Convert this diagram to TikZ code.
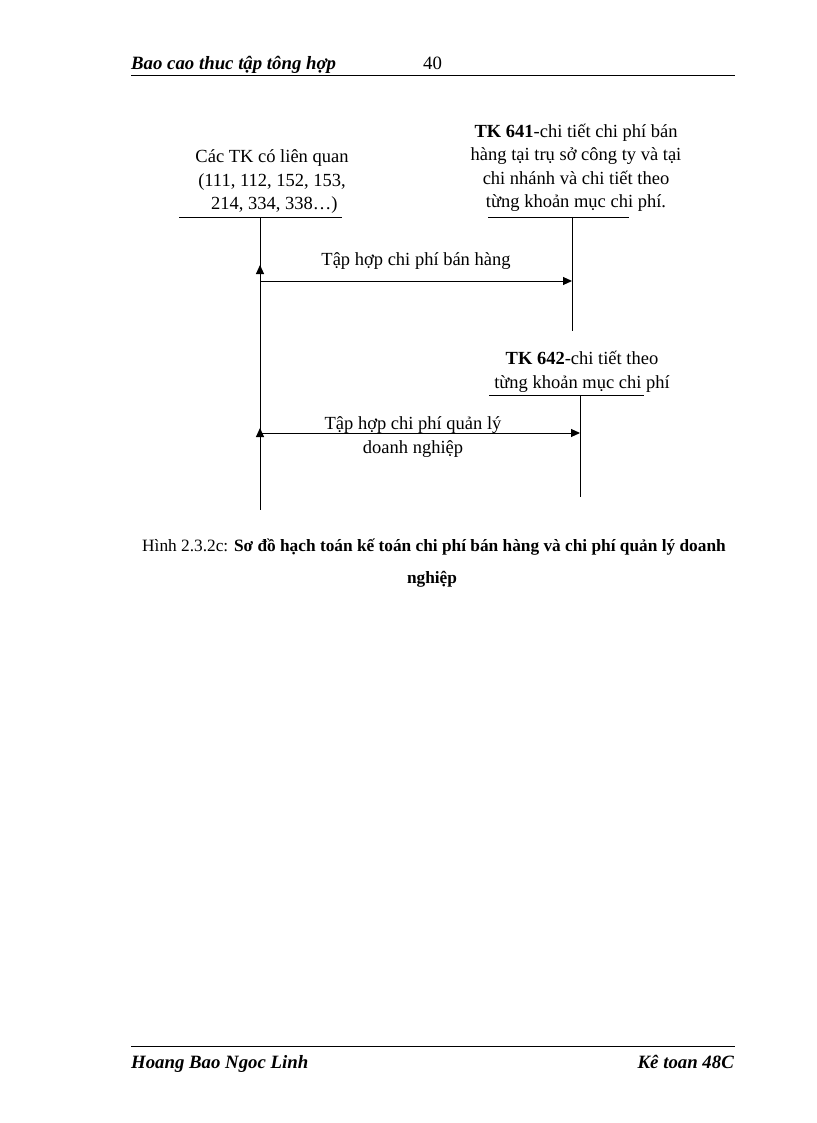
\documentclass[tikz,border=0pt]{standalone}
\usepackage{fontspec}
\setmainfont{Liberation Serif}
\usetikzlibrary{arrows.meta}
\begin{document}
\begin{tikzpicture}[x=1pt,y=-1pt,
  txt/.style={inner sep=0pt,font=\fontsize{18.5}{23.5}\selectfont,align=center},
  hf/.style={inner sep=0pt,font=\fontsize{18.8}{20}\selectfont\bfseries\itshape},
  ln/.style={line width=1pt},
  arr/.style={ln,-{Triangle[length=9pt,width=8pt]}},
  rule/.style={line width=0.8pt}]
\useasboundingbox (0,0) rectangle (816,1123);
% header / footer
\node[hf,anchor=base west] (hl) at (131,70) {Bao cao thuc tập tông hợp};
\node[txt,anchor=base west,font=\fontsize{18.8}{20}\selectfont] (pg) at (423,70) {40};
\draw[rule] (131,75) -- (735,75);
\draw[rule] (131,1046) -- (735,1046);
\node[hf,anchor=base west] (fl) at (131,1068) {Hoang Bao Ngoc Linh};
\node[hf,anchor=base east] (fr) at (734,1068) {Kê toan 48C};
% account blocks
\node[txt] (a) at (272,182) {Các TK có liên quan\\(111, 112, 152, 153,\\\ 214, 334, 338…)};
\node[txt] (b) at (576,168) {\textbf{TK 641}-chi tiết chi phí bán\\hàng tại trụ sở công ty và tại\\chi nhánh và chi tiết theo\\từng khoản mục chi phí.};
\node[txt] (c) at (582,372) {\textbf{TK 642}-chi tiết theo\\từng khoản mục chi phí};
\draw[rule] (179,217) -- (342,217);
\draw[rule] (488,217) -- (629,217);
\draw[rule] (489,395) -- (644,395);
\coordinate (lt) at (260,217);
\coordinate (lb) at (260,510);
\coordinate (l1) at (260,281);
\coordinate (l2) at (260,433);
\coordinate (bt) at (572,217);
\coordinate (bb) at (572,331);
\coordinate (b1) at (572,281);
\coordinate (ct) at (580,395);
\coordinate (cb) at (580,497);
\coordinate (c1) at (580,433);
\draw[ln] (lt) -- (lb);
\draw[ln] (bt) -- (bb);
\draw[ln] (ct) -- (cb);
\draw[arr] (260,292) -- (l1|-0,265);
\draw[arr] (260,447) -- (l2|-0,428);
\draw[arr] (l1) -- (b1);
\draw[arr] (l2) -- (c1);
\node[txt] (t1) at (416,261) {Tập hợp chi phí bán hàng};
\node[txt] (t2) at (413,437) {Tập hợp chi phí quản lý\\doanh nghiệp};
% caption
\node[txt,anchor=base,font=\fontsize{17.3}{20}\selectfont] (cap1) at (434,551) {Hình 2.3.2c: \textbf{Sơ đồ hạch toán kế toán chi phí bán hàng và chi phí quản lý doanh}};
\node[txt,anchor=base,font=\fontsize{17.3}{20}\selectfont\bfseries] (cap2) at (432,583) {nghiệp};
\end{tikzpicture}
\end{document}
